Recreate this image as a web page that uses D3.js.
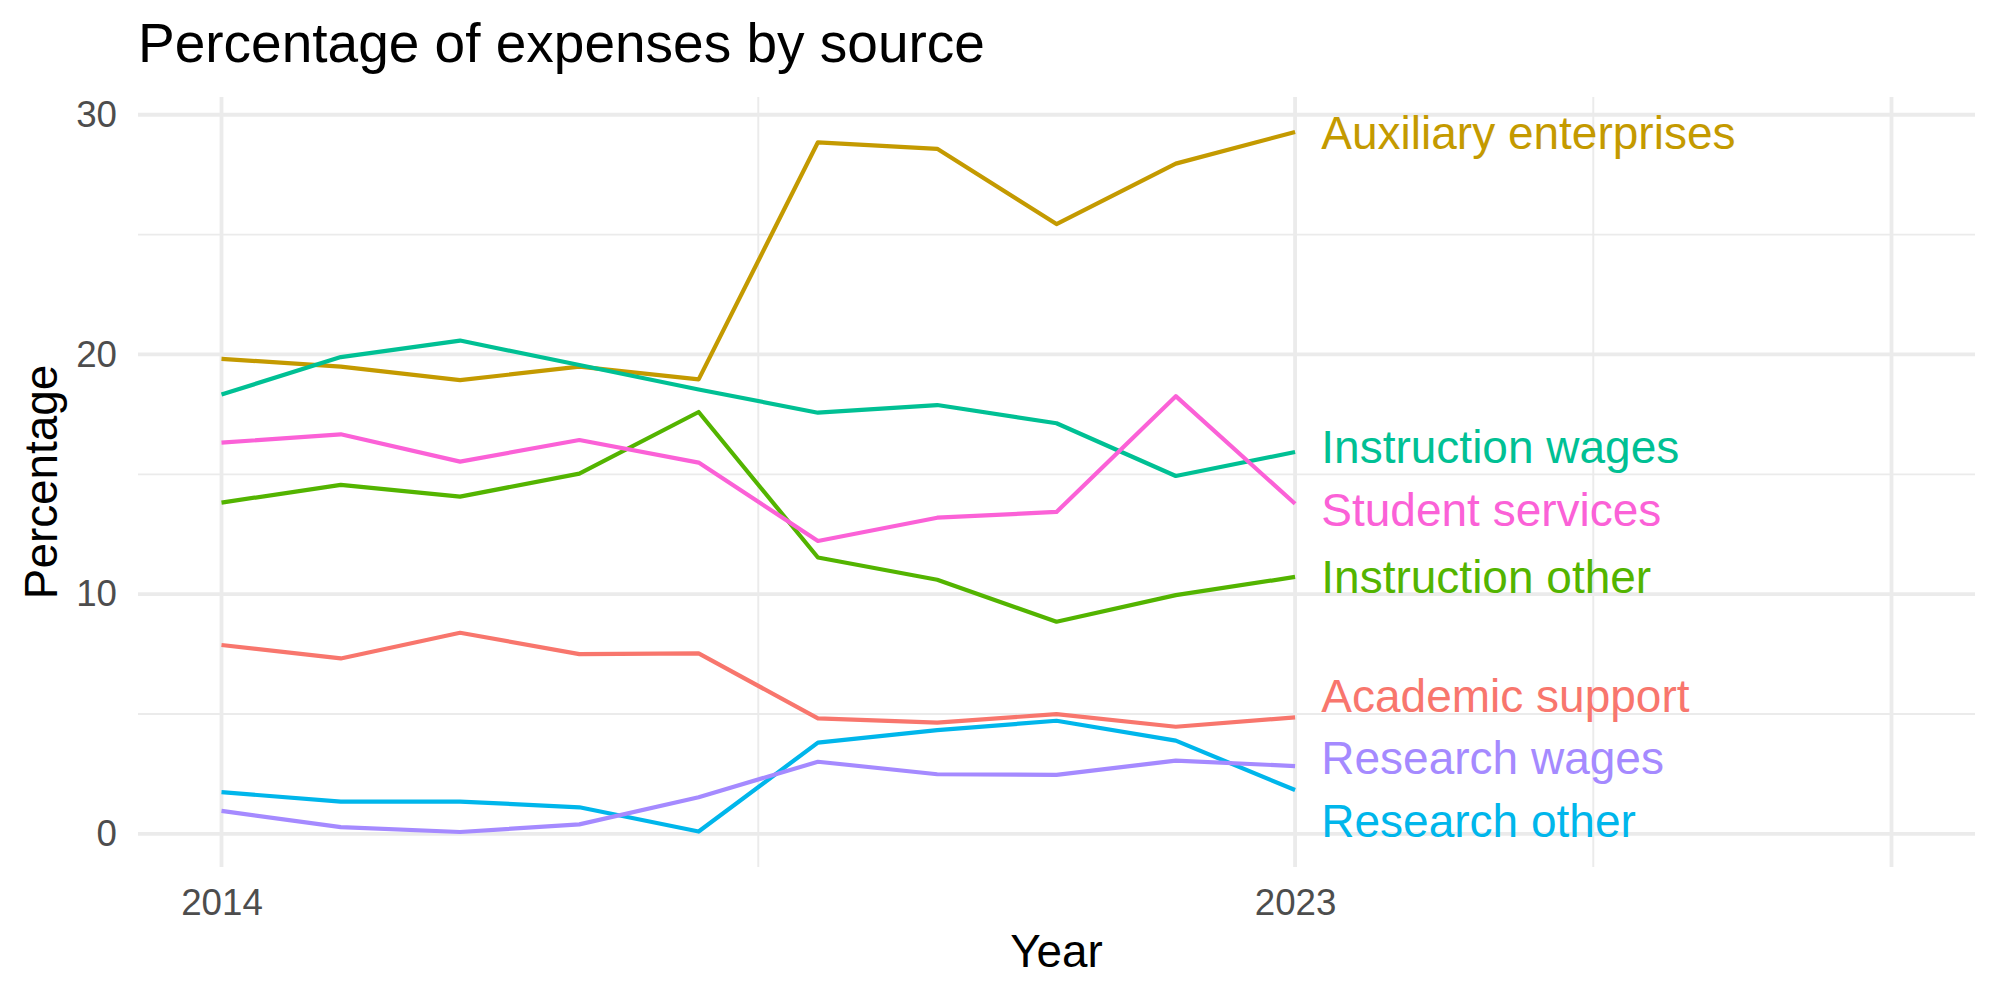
<!DOCTYPE html>
<html>
<head>
<meta charset="utf-8">
<script src="https://cdn.jsdelivr.net/npm/d3@7"></script>
<style>
  body { margin: 0; background: #fff; }
  text { font-family: "Liberation Sans", Arial, sans-serif; }
</style>
</head>
<body>
<svg id="chart"></svg>
<script>
const years = [2014, 2015, 2016, 2017, 2018, 2019, 2020, 2021, 2022, 2023];

const academicSupport = [7.88, 7.32, 8.39, 7.50, 7.53, 4.82, 4.64, 5.00, 4.47, 4.86];
const auxiliaryEnterprises = [19.82, 19.49, 18.93, 19.49, 18.96, 28.85, 28.58, 25.44, 27.96, 29.28];
const instructionOther = [13.82, 14.56, 14.07, 15.03, 17.60, 11.53, 10.60, 8.85, 9.96, 10.72];
const instructionWages = [18.33, 19.89, 20.58, 19.56, 18.54, 17.57, 17.89, 17.13, 14.93, 15.93];
const researchOther = [1.74, 1.35, 1.35, 1.11, 0.10, 3.81, 4.33, 4.72, 3.89, 1.83];
const researchWages = [0.96, 0.28, 0.08, 0.40, 1.53, 3.01, 2.49, 2.46, 3.06, 2.83];
const studentServices = [16.32, 16.67, 15.53, 16.43, 15.49, 12.22, 13.19, 13.43, 18.26, 13.77];

const seriesNames = ['Academic support', 'Auxiliary enterprises', 'Instruction other',
  'Instruction wages', 'Research other', 'Research wages', 'Student services'];
const seriesValues = [academicSupport, auxiliaryEnterprises, instructionOther,
  instructionWages, researchOther, researchWages, studentServices];
const colors = ['#F8766D', '#C49A00', '#53B400', '#00C094', '#00B6EB', '#A58AFF', '#FB61D7'];

const xTickLabels = [2014, 2023];
const xMajorGrid = [2014, 2023, 2028];
const xMinorGrid = [2018.5, 2025.5];
const yTicks = [0, 10, 20, 30];
const yMinorGrid = [5, 15, 25];

const width = 2000;
const height = 1000;
const panel = { left: 138, right: 1975, top: 97, bottom: 867 };

const series = seriesNames.map((name, i) => ({
  name: name,
  color: colors[i],
  values: years.map((yr, j) => ({ year: yr, value: seriesValues[i][j] }))
}));

// x limits 2014..2028 with ggplot's 5% expansion
const xLim = [2014, 2028];
const xPad = (xLim[1] - xLim[0]) * 0.05;
const x = d3.scaleLinear()
  .domain([xLim[0] - xPad, xLim[1] + xPad])
  .range([panel.left, panel.right]);

const allVals = seriesValues.flat();
const yExt = d3.extent(allVals);
const yPad = (yExt[1] - yExt[0]) * 0.05;
const y = d3.scaleLinear()
  .domain([yExt[0] - yPad, yExt[1] + yPad])
  .range([panel.bottom, panel.top]);

const svg = d3.select('#chart')
  .attr('width', width)
  .attr('height', height);

// grid
const grid = svg.append('g');
grid.selectAll('.ymin').data(yMinorGrid).enter().append('line')
  .attr('x1', panel.left).attr('x2', panel.right)
  .attr('y1', d => y(d)).attr('y2', d => y(d))
  .attr('stroke', '#EBEBEB').attr('stroke-width', 1.9);
grid.selectAll('.xmin').data(xMinorGrid).enter().append('line')
  .attr('y1', panel.top).attr('y2', panel.bottom)
  .attr('x1', d => x(d)).attr('x2', d => x(d))
  .attr('stroke', '#EBEBEB').attr('stroke-width', 1.9);
grid.selectAll('.ymaj').data(yTicks).enter().append('line')
  .attr('x1', panel.left).attr('x2', panel.right)
  .attr('y1', d => y(d)).attr('y2', d => y(d))
  .attr('stroke', '#EBEBEB').attr('stroke-width', 3.8);
grid.selectAll('.xmaj').data(xMajorGrid).enter().append('line')
  .attr('y1', panel.top).attr('y2', panel.bottom)
  .attr('x1', d => x(d)).attr('x2', d => x(d))
  .attr('stroke', '#EBEBEB').attr('stroke-width', 3.8);

// lines
const line = d3.line()
  .x(d => x(d.year))
  .y(d => y(d.value));

svg.append('g').selectAll('path')
  .data(series)
  .enter()
  .append('path')
  .attr('d', d => line(d.values))
  .attr('fill', 'none')
  .attr('stroke', d => d.color)
  .attr('stroke-width', 4.2)
  .attr('stroke-linejoin', 'round');

// end labels, pushed apart like ggrepel
const labelGap = 2.6;
let items = series.map(s => ({ s: s, target: s.values[s.values.length - 1].value }))
  .sort((a, b) => a.target - b.target);
let clusters = items.map(d => ({ members: [d], mean: d.target }));
let merged = true;
while (merged) {
  merged = false;
  for (let i = 0; i < clusters.length - 1; i++) {
    const a = clusters[i], b = clusters[i + 1];
    const aTop = a.mean + (a.members.length - 1) / 2 * labelGap;
    const bBot = b.mean - (b.members.length - 1) / 2 * labelGap;
    if (bBot - aTop < labelGap) {
      const members = a.members.concat(b.members);
      clusters.splice(i, 2, { members: members, mean: d3.mean(members, m => m.target) });
      merged = true;
      break;
    }
  }
}
clusters.forEach(c => {
  c.members.forEach((m, k) => {
    m.pos = c.mean + (k - (c.members.length - 1) / 2) * labelGap;
  });
});

svg.append('g').selectAll('text')
  .data(items)
  .enter()
  .append('text')
  .attr('x', x(2023.22))
  .attr('y', d => y(d.pos))
  .attr('dy', '0.36em')
  .attr('font-size', 46)
  .attr('fill', d => d.s.color)
  .text(d => d.s.name);

// axes
const yAxis = d3.axisLeft(y).tickValues(yTicks).tickSize(0).tickPadding(21);
const gy = svg.append('g')
  .attr('transform', 'translate(' + panel.left + ',0)')
  .call(yAxis);
gy.select('.domain').remove();
gy.selectAll('text')
  .attr('font-family', '"Liberation Sans", Arial, sans-serif')
  .attr('font-size', 36.7)
  .attr('fill', '#4D4D4D');

const xAxis = d3.axisBottom(x).tickValues(xTickLabels).tickSize(0).tickPadding(22)
  .tickFormat(d3.format('d'));
const gx = svg.append('g')
  .attr('transform', 'translate(0,' + panel.bottom + ')')
  .call(xAxis);
gx.select('.domain').remove();
gx.selectAll('text')
  .attr('font-family', '"Liberation Sans", Arial, sans-serif')
  .attr('font-size', 36.7)
  .attr('fill', '#4D4D4D');

// titles
svg.append('text')
  .attr('x', panel.left)
  .attr('y', 62)
  .attr('font-size', 55)
  .attr('fill', '#000')
  .text('Percentage of expenses by source');

svg.append('text')
  .attr('x', (panel.left + panel.right) / 2)
  .attr('y', 967)
  .attr('text-anchor', 'middle')
  .attr('font-size', 45.8)
  .attr('fill', '#000')
  .text('Year');

svg.append('text')
  .attr('transform', 'translate(57,' + ((panel.top + panel.bottom) / 2) + ') rotate(-90)')
  .attr('text-anchor', 'middle')
  .attr('font-size', 45.8)
  .attr('fill', '#000')
  .text('Percentage');
</script>
</body>
</html>
